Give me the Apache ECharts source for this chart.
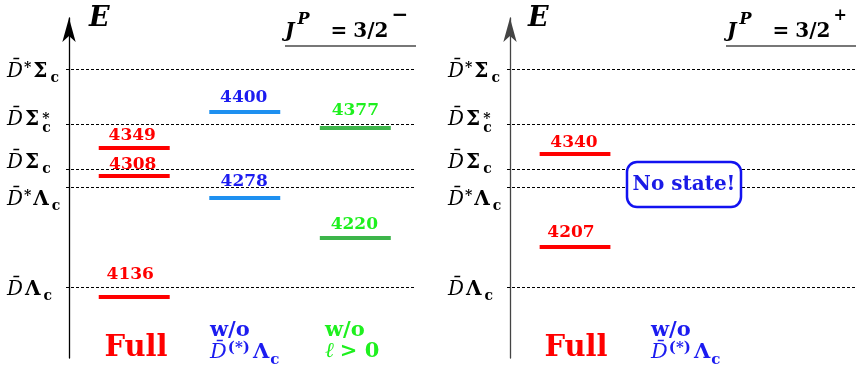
<!DOCTYPE html>
<html>
<head>
<meta charset="utf-8">
<script src="https://cdn.jsdelivr.net/npm/echarts@6/dist/echarts.min.js"></script>
<style>
  html, body { margin: 0; padding: 0; background: #fff; }
  #chart { width: 857px; height: 365px; }
</style>
</head>
<body>
<div id="chart"></div>
<script>
// Two-body thresholds (MeV), from lowest to highest
const thresholdKeys = ['DbarLc', 'DbarStarLc', 'DbarSc', 'DbarScStar', 'DbarStarSc'];
const thresholdMasses = [4151, 4293, 4319, 4383, 4461];

// Columns of each panel
const colFull = 1, colNoDLc = 2, colNoHigherL = 3;

// Pole masses (MeV), J^P = 3/2^-
const negFull = [4136, 4308, 4349];
const negNoDLc = [4278, 4400];
const negNoHigherL = [4220, 4377];

// Pole masses (MeV), J^P = 3/2^+
const posFull = [4207, 4340];

// Energy axis range (MeV)
const energyMin = 4050, energyMax = 4533;

// ---- styling ----
const FONT = 'DejaVu Serif';
const RED = '#ff0000';
const BLUE_TXT = '#1c1cf0';
const BLUE_BAR = '#1e90f0';
const GREEN_TXT = '#1ef01e';
const GREEN_BAR = '#3db54a';

// Vertical nudge (px) of each threshold label so neighbours do not collide
const thresholdLabelShift = [1, 11, -8, -6, 1];

// Value-label placement above each level: [lift px, horizontal px]
const negFullLabelPos = [[24, -4], [13, -1.5], [13.5, -2]];
const negNoDLcLabelPos = [[18, -0.5], [15.5, -1]];
const negNoHigherLLabelPos = [[15, -1], [19, 0]];
const posFullLabelPos = [[16, -4], [13, -1]];

// Math-like labels: [text, kind, gapAfter, stacked, dyFactor, sizeScale]
const thresholdLabels = {
  DbarLc:     [['D\u0304', 'i', 2], ['\u039B', 'b', 3], ['c', 'sub', 0]],
  DbarStarLc: [['D\u0304', 'i', 1], ['*', 'sup', 2], ['\u039B', 'b', 3], ['c', 'sub', 0]],
  DbarSc:     [['D\u0304', 'i', 2], ['\u03A3', 'b', 3], ['c', 'sub', 0]],
  DbarScStar: [['D\u0304', 'i', 2], ['\u03A3', 'b', 3], ['*', 'sup', 0, true, 0], ['c', 'sub', 0, false, 0.45]],
  DbarStarSc: [['D\u0304', 'i', 1], ['*', 'sup', 2], ['\u03A3', 'b', 3], ['c', 'sub', 0]]
};

const measureCtx = document.createElement('canvas').getContext('2d');

function fontFor(kind, size) {
  const small = Math.round(size * 0.72);
  switch (kind) {
    case 'i': return `italic ${size}px "${FONT}"`;
    case 'b': return `bold ${size}px "${FONT}"`;
    case 'bi': return `italic bold ${size}px "${FONT}"`;
    default: return `bold ${small}px "${FONT}"`;
  }
}
const defaultDy = { sup: -0.15, sub: 0.32 };

// Lays out a formula piece by piece; returns text elements
function mathText(pieces, x0, yMid, color, size) {
  let x = x0;
  const out = [];
  pieces.forEach(p => {
    const [txt, kind, gap = 0, stacked = false, dyF, scale = 1] = p;
    const font = fontFor(kind, Math.round(size * scale));
    const f = dyF !== undefined ? dyF : (defaultDy[kind] || 0);
    measureCtx.font = font;
    const w = measureCtx.measureText(txt).width;
    out.push({
      type: 'text', silent: true,
      style: { text: txt, x: x, y: yMid + f * size, font: font, fill: color, align: 'left', verticalAlign: 'middle' }
    });
    if (!stacked) x += w + gap;
  });
  return out;
}

function levelSeries(gridIdx, col, values, labelPos, barColor, textColor) {
  return {
    type: 'custom',
    xAxisIndex: gridIdx, yAxisIndex: gridIdx,
    data: values.map((e, i) => [col, e, i]),
    renderItem: function (params, api) {
      const halfW = 0.321;
      const left = api.coord([api.value(0) - halfW, api.value(1)]);
      const right = api.coord([api.value(0) + halfW, api.value(1)]);
      const y = Math.round(left[1]);
      const pos = labelPos[api.value(2)];
      return {
        type: 'group',
        children: [
          { type: 'rect', shape: { x: left[0], y: y - 2, width: right[0] - left[0], height: 4 },
            style: { fill: barColor } },
          { type: 'text', style: {
              text: String(api.value(1)), x: (left[0] + right[0]) / 2 + pos[1], y: y - pos[0] + 1.5,
              font: `bold 17px "${FONT}"`, fill: textColor, align: 'center', verticalAlign: 'middle' } }
        ]
      };
    },
    z: 5
  };
}

function thresholdSeries(gridIdx, xMin, xMax) {
  return {
    type: 'custom',
    xAxisIndex: gridIdx, yAxisIndex: gridIdx,
    data: thresholdMasses.map((m, i) => [xMin, m, i]),
    renderItem: function (params, api) {
      const a = api.coord([xMin, api.value(1)]);
      const b = api.coord([xMax, api.value(1)]);
      const y = Math.round(a[1]) + 0.5;
      const i = api.value(2);
      return {
        type: 'group',
        children: [
          { type: 'line', shape: { x1: a[0] - 3, y1: y, x2: b[0], y2: y },
            style: { stroke: '#000', lineWidth: 1, lineDash: [3, 2] } }
        ].concat(mathText(thresholdLabels[thresholdKeys[i]], a[0] - 62, y + 1 + thresholdLabelShift[i], '#000', 20))
      };
    },
    z: 2
  };
}

const xMin = 0.41, xMax = 3.54;

function yAxisFor(gridIdx, color) {
  return {
    gridIndex: gridIdx, type: 'value', min: energyMin, max: energyMax,
    axisLine: { show: true, lineStyle: { color: color, width: 1.3 },
                symbol: ['none', 'arrow'], symbolSize: [10, 24] },
    axisTick: { show: false }, axisLabel: { show: false }, splitLine: { show: false }
  };
}
function xAxisFor(gridIdx) {
  return { gridIndex: gridIdx, type: 'value', min: xMin, max: xMax, show: false };
}

// Headings and column captions
const graphics = [];
function addMath(pieces, x, y, color, size) {
  graphics.push({ type: 'group', children: mathText(pieces, x, y, color, size) });
}
function addText(txt, x, y, font, color, align) {
  graphics.push({ type: 'text', silent: true,
    style: { text: txt, x: x, y: y, font: font, fill: color, align: align || 'left', verticalAlign: 'middle' } });
}

// Axis titles
addText('E', 89, 19, `italic bold 27px "${FONT}"`, '#000');
addText('E', 528, 19, `italic bold 27px "${FONT}"`, '#000');

// Quantum numbers with underline
const jpMinus = [['J', 'bi', 3], ['P', 'bi', 21, false, -0.6, 0.78], ['=', 'b', 6], ['3/2', 'b', 3], ['\u2212', 'b', 0, false, -0.8]];
const jpPlus = [['J', 'bi', 3], ['P', 'bi', 21, false, -0.6, 0.78], ['=', 'b', 6], ['3/2', 'b', 3], ['+', 'b', 0, false, -0.8, 0.8]];
addMath(jpMinus, 285, 32, '#000', 20);
addMath(jpPlus, 727, 32, '#000', 20);
graphics.push({ type: 'line', shape: { x1: 285, y1: 46, x2: 416, y2: 46 }, style: { stroke: '#777', lineWidth: 1.8 } });
graphics.push({ type: 'line', shape: { x1: 726, y1: 46, x2: 856, y2: 46 }, style: { stroke: '#777', lineWidth: 1.8 } });

const noDLcCaption = [['D\u0304', 'i', 1], ['(*)', 'sup', 3, false, -0.25], ['\u039B', 'b', 1], ['c', 'sub', 0]];

// Column captions, 3/2^-
addText('Full', 136, 348, `bold 29px "${FONT}"`, RED, 'center');
addText('w/o', 210, 331, `bold 21px "${FONT}"`, BLUE_TXT);
addMath(noDLcCaption, 210, 353, BLUE_TXT, 21);
addText('w/o', 325, 331, `bold 21px "${FONT}"`, GREEN_TXT);
addMath([['\u2113', 'i', 6], ['> 0', 'b', 0]], 325, 352, GREEN_TXT, 21);

// Column captions, 3/2^+
addText('Full', 576, 348, `bold 29px "${FONT}"`, RED, 'center');
addText('w/o', 651, 331, `bold 21px "${FONT}"`, BLUE_TXT);
addMath(noDLcCaption, 651, 353, BLUE_TXT, 21);

// "No state!" note for the 3/2^+ channel without D(*)Lambda_c
graphics.push({ type: 'rect', shape: { x: 627, y: 162, width: 114, height: 45, r: 10 },
  style: { fill: '#fff', stroke: '#1212f0', lineWidth: 2.5 }, z: 100 });
graphics.push({ type: 'text', silent: true, z: 101,
  style: { text: 'No state!', x: 684, y: 185, font: `bold 20px "${FONT}"`, fill: '#1a1ae6', align: 'center', verticalAlign: 'middle' } });

const chart = echarts.init(document.getElementById('chart'), null, { renderer: 'canvas' });
chart.setOption({
  animation: false,
  backgroundColor: '#fff',
  grid: [
    { left: 69, width: 346, top: 18, bottom: 7 },
    { left: 510, width: 345, top: 18, bottom: 7 }
  ],
  xAxis: [xAxisFor(0), xAxisFor(1)],
  yAxis: [yAxisFor(0, '#000'), yAxisFor(1, '#444')],
  series: [
    thresholdSeries(0, xMin, xMax),
    thresholdSeries(1, xMin, xMax),
    levelSeries(0, colFull, negFull, negFullLabelPos, RED, RED),
    levelSeries(0, colNoDLc, negNoDLc, negNoDLcLabelPos, BLUE_BAR, BLUE_TXT),
    levelSeries(0, colNoHigherL, negNoHigherL, negNoHigherLLabelPos, GREEN_BAR, GREEN_TXT),
    levelSeries(1, colFull, posFull, posFullLabelPos, RED, RED)
  ],
  graphic: graphics
});
</script>
</body>
</html>
